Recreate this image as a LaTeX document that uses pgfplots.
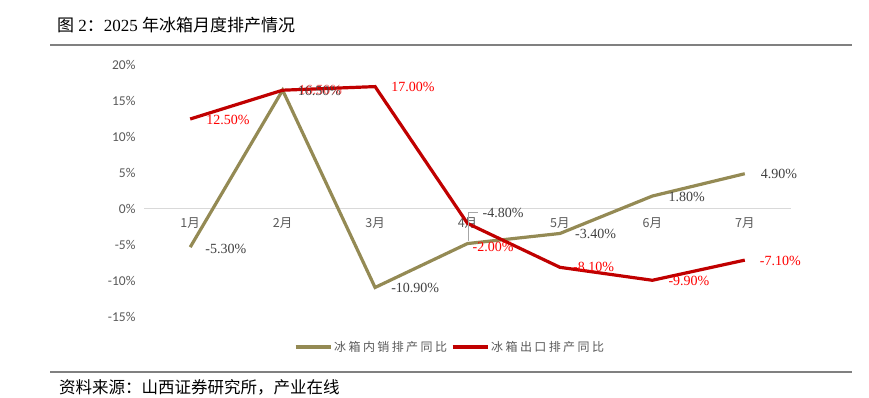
\documentclass[border=0pt]{standalone}
\usepackage{fontspec}
\setmainfont{Liberation Serif}
\newfontfamily\cjk{Noto Sans CJK SC}
\newfontfamily\cjklg[LetterSpace=20]{Noto Sans CJK SC}
\newfontfamily\tickfont{Carlito}
\usepackage{pgfplots}
\usepackage{pgfplotstable}
\usetikzlibrary{calc}
\pgfplotsset{compat=1.18}
\definecolor{olivec}{HTML}{948A54}
\definecolor{dred}{HTML}{C00000}
\definecolor{tgray}{HTML}{595959}
\definecolor{lgray}{HTML}{404040}
\definecolor{lred}{HTML}{FF0000}
\definecolor{rulegray}{HTML}{808080}

\pgfplotstableread{
x dom exp
1 -5.3 12.5
2 16.5 16.5
3 -10.9 17.0
4 -4.8 -2.0
5 -3.4 -8.1
6 1.8 -9.9
7 4.9 -7.1
}\datatable

\begin{document}
\begin{tikzpicture}[x=1pt,y=1pt]
\useasboundingbox (0,0) rectangle (869,398);
\node[anchor=base west, inner sep=0, font=\fontsize{17}{17}\selectfont] at (57,398-32) {{\cjk 图}~2{\cjk ：}2025~{\cjk 年冰箱月度排产情况}};
\draw[rulegray, line width=1.5pt] (50,398-45) -- (852,398-45);
\draw[rulegray, line width=1.5pt] (50,398-372) -- (852,398-372);
\node[anchor=west, inner sep=0, font=\fontsize{16.5}{16.5}\selectfont] at (59,398-387) {\cjk 资料来源：山西证券研究所，产业在线};

\begin{axis}[
  at={(144pt,81pt)}, anchor=south west,
  scale only axis, width=647pt, height=252pt,
  xmin=0.5, xmax=7.5, ymin=-15, ymax=20,
  clip=false,
  axis x line=middle, axis y line=left,
  x axis line style={draw=black!15, line width=1pt, -},
  y axis line style={draw=none},
  xtick={1,2,3,4,5,6,7},
  xticklabels={1月,2月,3月,4月,5月,6月,7月},
  xticklabel style={font=\cjk\fontsize{12.5}{12.5}\selectfont, text=tgray, anchor=north, yshift=-5pt},
  ytick={-15,-10,-5,0,5,10,15,20},
  yticklabels={-15\%,-10\%,-5\%,0\%,5\%,10\%,15\%,20\%},
  yticklabel style={font=\tickfont\fontsize{13.5}{13.5}\selectfont, text=tgray, anchor=east, xshift=-5pt},
  major tick length=0pt,
  legend style={at={(0.473,-0.119)}, anchor=center, draw=none, fill=none,
    legend columns=2, font=\cjklg\fontsize{12}{12}\selectfont, text=tgray,
    /tikz/every even column/.append style={column sep=2pt},
    inner xsep=0pt},
  legend cell align=left,
  legend image code/.code={\draw[#1, line width=3.2pt] (0pt,0pt) -- (35pt,0pt);},
]
\addplot[olivec, line width=3.2pt, no marks] table[x=x, y=dom] {\datatable};
\addlegendentry{冰箱内销排产同比}
\addplot[dred, line width=3.2pt, no marks] table[x=x, y=exp] {\datatable};
\addlegendentry{冰箱出口排产同比}

\begin{scope}[every node/.style={font=\fontsize{14}{14}\selectfont, inner sep=0, anchor=west}]
\node[text=lgray] at ($(axis cs:1,-5.3)+(15pt,-2pt)$) {-5.30\%};
\node[text=lgray] at ($(axis cs:3,-10.9)+(16pt,0pt)$) {-10.90\%};
\node[text=lgray] at ($(axis cs:4,-4.8)+(15pt,31pt)$) {-4.80\%};
\node[text=lgray] at ($(axis cs:5,-3.4)+(15pt,0pt)$) {-3.40\%};
\node[text=lgray] at ($(axis cs:6,1.8)+(16pt,-1pt)$) {1.80\%};
\node[text=lgray] at ($(axis cs:7,4.9)+(16pt,0pt)$) {4.90\%};
\node[text=lred] at ($(axis cs:1,12.5)+(16pt,-1pt)$) {12.50\%};
\node[text=lgray] at ($(axis cs:2,16.5)+(15pt,-1pt)$) {16.50\%};
\node[text=lred, opacity=0.6] at ($(axis cs:2,16.5)+(16pt,0pt)$) {16.50\%};
\node[text=lred] at ($(axis cs:3,17.0)+(16pt,0pt)$) {17.00\%};
\node[text=lred] at ($(axis cs:4,-2.0)+(5pt,-24pt)$) {-2.00\%};
\node[text=lred] at ($(axis cs:5,-8.1)+(13pt,0pt)$) {-8.10\%};
\node[text=lred] at ($(axis cs:6,-9.9)+(16pt,-1pt)$) {-9.90\%};
\node[text=lred] at ($(axis cs:7,-7.1)+(15pt,-1pt)$) {-7.10\%};
\end{scope}
\draw[gray!70, line width=0.6pt] ($(axis cs:4,-4.8)+(1pt,3pt)$) -- ++(0pt,28pt) -- ++(9pt,0pt);
\end{axis}
\end{tikzpicture}
\end{document}
